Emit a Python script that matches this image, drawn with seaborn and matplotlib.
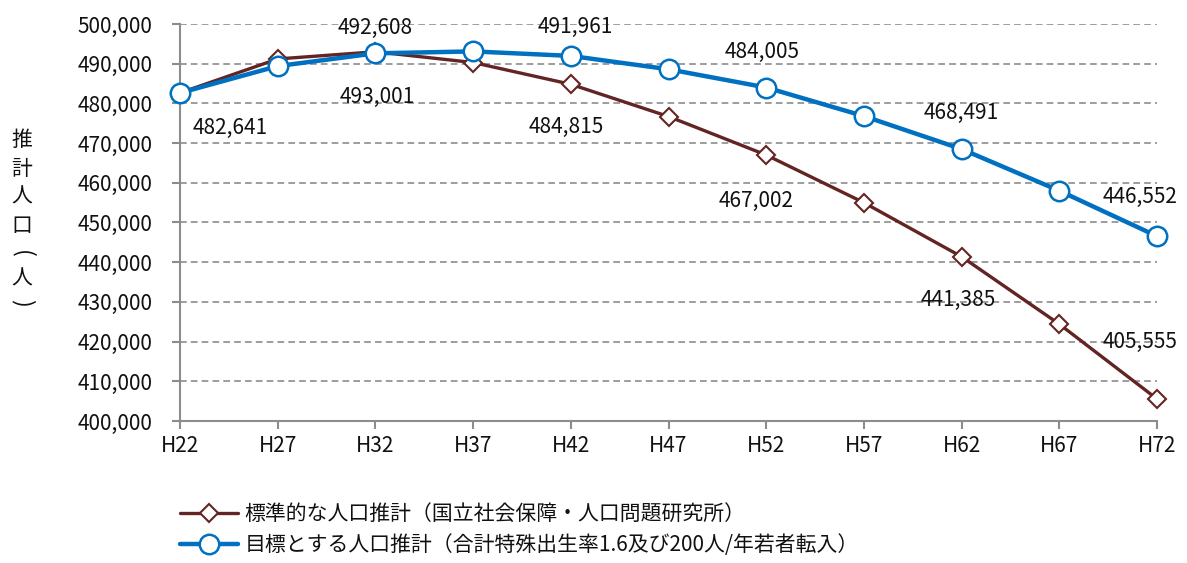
import matplotlib
matplotlib.use("Agg")
import matplotlib.pyplot as plt
import seaborn as sns
import pandas as pd
from matplotlib.ticker import FuncFormatter, MultipleLocator

# ---- data ----
years = ["H22", "H27", "H32", "H37", "H42", "H47", "H52", "H57", "H62", "H67", "H72"]
standard = [482641, 491200, 493001, 490300, 484815, 476700, 467002, 455000, 441385, 424400, 405555]
target = [482641, 489400, 492608, 493100, 491961, 488600, 484005, 476800, 468491, 458000, 446552]
standard_name = "標準的な人口推計（国立社会保障・人口問題研究所）"
target_name = "目標とする人口推計（合計特殊出生率1.6及び200人/年若者転入）"
ylabel_chars = ["推", "計", "人", "口", "(", "人", ")"]

# labelled points (indices)
std_labels = [0, 2, 4, 6, 8, 10]
tgt_labels = [2, 4, 6, 8, 10]
# label offsets (pixels) -- style only
std_off = {0: (50, -35), 2: (2, -45), 4: (-5, -43), 6: (-10, -46), 8: (-3, -43), 10: (-17, 57)}
tgt_off = {2: (0, 25), 4: (5, 29), 6: (-4, 36), 8: (0, 36), 10: (-17, 39)}

sns.set_theme(style="white")
plt.rcParams["font.family"] = ["Noto Sans CJK JP", "DejaVu Sans"]

BROWN = "#632523"
BLUE = "#0070C0"
FS = 15
TXT = "#111111"

fig = plt.figure(figsize=(11.87, 5.63), dpi=100)
ax = fig.add_axes([180 / 1187, 1 - 421 / 563, (1157 - 180) / 1187, (421 - 24) / 563])

df_s = pd.DataFrame({"year": years, "value": standard})
df_t = pd.DataFrame({"year": years, "value": target})

sns.lineplot(data=df_s, x="year", y="value", ax=ax, color=BROWN, linewidth=2.4,
             marker="D", markersize=9.5, markerfacecolor="white", markeredgecolor=BROWN,
             markeredgewidth=1.5, label=standard_name, clip_on=False, zorder=3)
sns.lineplot(data=df_t, x="year", y="value", ax=ax, color=BLUE, linewidth=3.2,
             marker="o", markersize=14, markerfacecolor="white", markeredgecolor=BLUE,
             markeredgewidth=1.8, label=target_name, clip_on=False, zorder=4)

ax.set_xlim(0, len(years) - 1)
ax.set_ylim(400000, 500000)
ax.yaxis.set_major_locator(MultipleLocator(10000))
ax.yaxis.set_major_formatter(FuncFormatter(lambda v, p: f"{int(v):,}"))
ax.set_xticks(range(len(years)))
ax.set_xticklabels(years)
ax.set_xlabel("")
ax.set_ylabel("")

ax.grid(axis="y", color="#8c8c8c", linestyle=(0, (4, 2.5)), linewidth=1.2)
ax.grid(axis="x", visible=False)
for s in ["top", "right"]:
    ax.spines[s].set_visible(False)
for s in ["left", "bottom"]:
    ax.spines[s].set_color("#8c8c8c")
    ax.spines[s].set_linewidth(1.5)
ax.tick_params(axis="both", which="major", length=6, width=1.5, color="#8c8c8c",
               labelsize=FS, labelcolor=TXT, direction="out")
ax.tick_params(axis="y", pad=14)
ax.tick_params(axis="x", pad=4)
ax.tick_params(left=True, bottom=True)

for i in std_labels:
    dx, dy = std_off[i]
    ax.annotate(f"{standard[i]:,}", (i, standard[i]), xytext=(dx, dy),
                textcoords="offset pixels", ha="center", va="center",
                fontsize=FS, color=TXT, zorder=5)
for i in tgt_labels:
    dx, dy = tgt_off[i]
    ax.annotate(f"{target[i]:,}", (i, target[i]), xytext=(dx, dy),
                textcoords="offset pixels", ha="center", va="center",
                fontsize=FS, color=TXT, zorder=5)

# vertical y-axis title, one character per line; brackets rotated
ypix = [140, 169, 197, 226, 254, 279, 303]
for ch, yp in zip(ylabel_chars, ypix):
    rot = -90 if ch in "()" else 0
    fig.text(22 / 1187, 1 - yp / 563, ch, ha="center", va="center",
             fontsize=FS + 2 if rot else FS, color=TXT, rotation=rot,
             rotation_mode="anchor" if not rot else "default")

leg = ax.legend(loc="upper left", frameon=False, fontsize=FS,
                handlelength=2.8, handletextpad=0.3, labelspacing=0.45,
                borderaxespad=0, borderpad=0)
leg.set_bbox_to_anchor((180 / 1187, 1 - 503 / 563), transform=fig.transFigure)
for t in leg.get_texts():
    t.set_color(TXT)

fig.savefig("out.png", dpi=100)
